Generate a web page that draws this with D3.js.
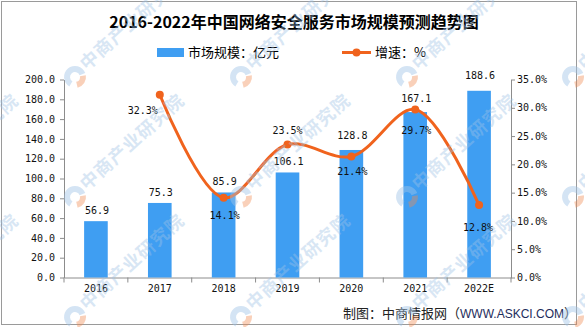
<!DOCTYPE html>
<html>
<head>
<meta charset="utf-8">
<script src="https://cdn.jsdelivr.net/npm/d3@7"></script>
<style>
  body { margin: 0; background: #fff; }
  svg { display: block; }
  .axis path, .axis line { stroke: #8c8c8c; }
  .axis text { font-family: "DejaVu Sans Mono", "Liberation Mono", monospace; font-size: 10px; fill: #111; }
  .lbl { font-family: "DejaVu Sans Mono", "Liberation Mono", monospace; font-size: 10px; fill: #111; }
</style>
</head>
<body>
<svg id="chart" width="585" height="327"></svg>
<script>
// market size (100m yuan) and growth rate (%) by year
var years = ['2016', '2017', '2018', '2019', '2020', '2021', '2022E']
var marketSize = [56.9, 75.3, 85.9, 106.1, 128.8, 167.1, 188.6]
var growth = [null, 32.3, 14.1, 23.5, 21.4, 29.7, 12.8]
var leftTicks = [0, 20, 40, 60, 80, 100, 120, 140, 160, 180, 200]
var rightTicks = [0, 5, 10, 15, 20, 25, 30, 35]

var barColor = '#3f9ef2'
var lineColor = '#f0631d'

var svg = d3.select('#chart')
var plot = { left: 64, right: 511, top: 79.5, bottom: 277.5 }

var x = d3.scaleBand().domain(years).range([plot.left, plot.right]).paddingInner(0.63).paddingOuter(0.315)
var yL = d3.scaleLinear().domain([0, 200]).range([plot.bottom, plot.top])
var yR = d3.scaleLinear().domain([0, 35]).range([plot.bottom, plot.top])

/* outer frame */
svg.append('rect').attr('x', 1.5).attr('y', 1.5).attr('width', 575).attr('height', 323)
	.attr('fill', 'none').attr('stroke', '#9a9a9a')

/* title */
svg.append('text').attr('x', 294).attr('y', 28).attr('text-anchor', 'middle')
	.style('font-family', '"Noto Sans CJK SC", sans-serif').style('font-size', '16px').style('font-weight', 'bold')
	.text('2016-2022年中国网络安全服务市场规模预测趋势图')

/* legend */
var legend = svg.append('g').style('font-family', '"Noto Sans CJK SC", sans-serif').style('font-size', '13px')
legend.append('rect').attr('x', 157).attr('y', 48).attr('width', 27).attr('height', 9).attr('fill', barColor)
legend.append('text').attr('x', 188).attr('y', 57).text('市场规模：亿元')
legend.append('line').attr('x1', 342).attr('x2', 371).attr('y1', 52.5).attr('y2', 52.5)
	.attr('stroke', lineColor).attr('stroke-width', 3)
legend.append('circle').attr('cx', 356.5).attr('cy', 52.5).attr('r', 4).attr('fill', lineColor)
legend.append('text').attr('x', 375).attr('y', 57).text('增速：%')

/* axes */
svg.append('g').attr('class', 'axis').attr('transform', 'translate(' + plot.left + ',0)')
	.call(d3.axisLeft(yL).tickValues(leftTicks).tickFormat(d3.format('.1f')).tickSize(4).tickSizeOuter(0).tickPadding(5))

svg.append('g').attr('class', 'axis').attr('transform', 'translate(' + plot.right + ',0)')
	.call(d3.axisRight(yR).tickValues(rightTicks).tickFormat(function(d) { return d.toFixed(1) + '%' })
		.tickSize(4).tickSizeOuter(0).tickPadding(2))

var xAxis = svg.append('g').attr('class', 'axis').attr('transform', 'translate(0,' + plot.bottom + ')')
	.call(d3.axisBottom(x).tickSize(0).tickSizeOuter(0).tickPadding(11))
xAxis.selectAll('.tick text').attr('dy', '0.32em')

/* category boundary ticks */
xAxis.selectAll('line.sep').data(d3.range(years.length + 1)).enter().append('line')
	.attr('class', 'sep')
	.attr('x1', function(i) { return plot.left + i * x.step() })
	.attr('x2', function(i) { return plot.left + i * x.step() })
	.attr('y1', 0).attr('y2', 5)
	.attr('stroke', '#8c8c8c')

/* bars */
var rows = years.map(function(y, i) { return { year: y, size: marketSize[i], rate: growth[i] } })

svg.append('g').selectAll('rect').data(rows).enter().append('rect')
	.attr('x', function(d) { return x(d.year) })
	.attr('width', x.bandwidth())
	.attr('y', function(d) { return yL(d.size) })
	.attr('height', function(d) { return plot.bottom - yL(d.size) })
	.attr('fill', barColor)

/* bar value labels; the last three sit a little higher to clear the line */
var barLift = { '2020': 14.5, '2021': 14, '2022E': 15 }
svg.append('g').selectAll('text').data(rows).enter().append('text')
	.attr('class', 'lbl').attr('text-anchor', 'middle')
	.attr('x', function(d) { return x(d.year) + x.bandwidth() / 2 + 1 })
	.attr('y', function(d) { return yL(d.size) - (barLift[d.year] || 10.5) + 3.5 })
	.text(function(d) { return d.size.toFixed(1) })

/* growth line */
var pts = rows.filter(function(d) { return d.rate != null })
var line = d3.line()
	.x(function(d) { return x(d.year) + x.bandwidth() / 2 })
	.y(function(d) { return yR(d.rate) })
	.curve(d3.curveCatmullRom.alpha(0.5))

svg.append('path').datum(pts).attr('d', line)
	.attr('fill', 'none').attr('stroke', lineColor).attr('stroke-width', 3)

svg.append('g').selectAll('circle').data(pts).enter().append('circle')
	.attr('cx', function(d) { return x(d.year) + x.bandwidth() / 2 })
	.attr('cy', function(d) { return yR(d.rate) })
	.attr('r', 4).attr('fill', lineColor)

/* growth labels: offsets from each point */
var rateOffset = {
	'2017': [-17, 16], '2018': [1, 17.5], '2019': [0, -14],
	'2020': [1, 15.5], '2021': [1, 21], '2022E': [-1, 22.5]
}
svg.append('g').selectAll('text').data(pts).enter().append('text')
	.attr('class', 'lbl').attr('text-anchor', 'middle')
	.attr('x', function(d) { return x(d.year) + x.bandwidth() / 2 + rateOffset[d.year][0] })
	.attr('y', function(d) { return yR(d.rate) + rateOffset[d.year][1] + 3.5 })
	.text(function(d) { return d.rate.toFixed(1) + '%' })

/* source note */
var note = svg.append('text').attr('x', 343).attr('y', 317.5)
	.style('font-family', '"Noto Sans CJK SC", sans-serif').style('font-size', '13px')
note.append('tspan').attr('fill', '#222').text('制图：中商情报网（')
note.append('tspan').attr('fill', '#1e2d5c').style('font-family', '"Liberation Sans", sans-serif').style('font-size', '12px').text('WWW.ASKCI.COM')
note.append('tspan').attr('fill', '#222').text('）')

/* watermark tiles */
var marks = []
d3.range(-1, 4).forEach(function(i) {
	d3.range(0, 3).forEach(function(j) { marks.push([75 + 166 * i, 77 + 120 * j]) })
})
var wm = svg.append('g').attr('pointer-events', 'none')
var tile = wm.selectAll('g').data(marks).enter().append('g')
	.attr('transform', function(d) { return 'translate(' + d[0] + ',' + d[1] + ')' })
tile.append('path')
	.attr('d', d3.arc().innerRadius(5).outerRadius(11).startAngle(-2.6).endAngle(1.2)())
	.attr('fill', '#9fc3e6').attr('opacity', 0.45)
tile.append('path')
	.attr('d', d3.arc().innerRadius(5).outerRadius(11).startAngle(1.4).endAngle(2.9)())
	.attr('fill', '#f08a50').attr('opacity', 0.4)
tile.append('text')
	.attr('transform', 'translate(12,-6) rotate(-42)')
	.style('font-family', '"Noto Sans CJK SC", sans-serif').style('font-size', '18px').style('font-weight', 'bold')
	.style('letter-spacing', '1px')
	.attr('fill', '#9fc3e6').attr('opacity', 0.4)
	.text('中商产业研究院')
</script>
</body>
</html>
